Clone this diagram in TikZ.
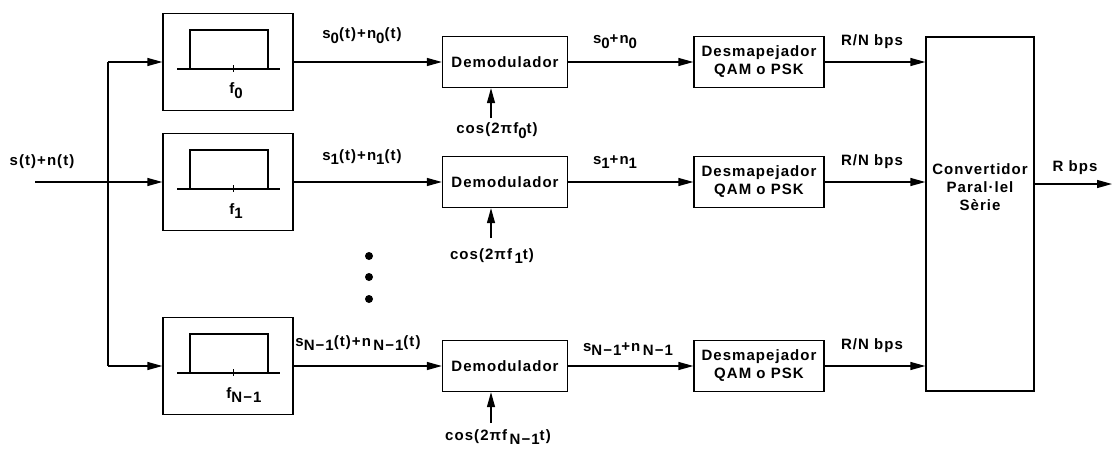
\documentclass[tikz,border=0pt]{standalone}
\usepackage{fontspec}
\setmainfont{Liberation Sans}[LetterSpace=7]
\usetikzlibrary{arrows.meta}
\newcommand{\lo}[1]{\raisebox{-0.6ex}{#1}}
\tikzset{
  lbl/.style={font=\fontsize{15}{18}\selectfont\bfseries, inner sep=0pt, align=center},
  filterbox/.style={rectangle, draw, line width=1.3pt, minimum width=130pt, minimum height=97pt, inner sep=0pt},
  demodbox/.style={rectangle, draw, line width=1.3pt, minimum width=125pt, minimum height=51pt, lbl},
  demapbox/.style={rectangle, draw, line width=1.3pt, minimum width=130pt, minimum height=51pt, lbl},
  convbox/.style={rectangle, draw, line width=1.3pt, minimum width=108pt, minimum height=354pt, inner sep=0pt},
  arrow/.style={-{Triangle[length=15pt,width=8pt]}, line width=1.3pt},
  wire/.style={line width=1.3pt},
  passband/.pic={
    \draw[line width=1.3pt] (-51,7) -- (52,7);
    \draw[line width=1.3pt] (-38,7) -- (-38,-32) -- (40,-32) -- (40,7);
    \draw[line width=1pt] (5,3) -- (5,10);
  }
}

\begin{document}
\begin{tikzpicture}[x=1pt,y=-1pt]
  \useasboundingbox (0,0) rectangle (1112,450);

  % filter bank
  \node[filterbox] (filt0) at (228,62) {};
  \node[filterbox] (filt1) at (228,182) {};
  \node[filterbox] (filtN) at (228,366) {};
  \pic at (filt0.center) {passband};
  \pic at (filt1.center) {passband};
  \pic at (filtN.center) {passband};
  \node[lbl] (fq0) at (236,91) {f\lo{0}};
  \node[lbl] (fq1) at (236,211) {f\lo{1}};
  \node[lbl] (fqN) at (244,395) {f\lo{N−1}};

  % demodulators and demappers
  \node[demodbox] (dem0) at (505,62) {Demodulador};
  \node[demodbox] (dem1) at (505,182) {Demodulador};
  \node[demodbox] (demN) at (505,366) {Demodulador};
  \node[demapbox] (map0) at (759,62) {Desmapejador\\QAM o PSK};
  \node[demapbox] (map1) at (759,182) {Desmapejador\\QAM o PSK};
  \node[demapbox] (mapN) at (759,366) {Desmapejador\\QAM o PSK};
  \node[convbox] (conv) at (980,214) {};
  \node[lbl] (convtxt) at (980,187) {Convertidor\\Paral·lel\\Sèrie};

  % input and splitting
  \node[lbl] (input) at (42,162) {s(t)+n(t)};
  \coordinate (in) at (35,182);
  \coordinate (split) at (108,182);
  \draw[arrow] (in) -- (filt1.west);
  \draw[wire] (split |- filt0.west) -- (split |- filtN.west);
  \draw[arrow] (split |- filt0.west) -- (filt0.west);
  \draw[arrow] (split |- filtN.west) -- (filtN.west);

  % filter -> demodulator
  \draw[arrow] (filt0.east) -- (dem0.west);
  \draw[arrow] (filt1.east) -- (dem1.west);
  \draw[arrow] (filtN.east) -- (demN.west);
  \node[lbl] (sig0) at (362,36) {s\lo{0}(t)+n\lo{0}(t)};
  \node[lbl] (sig1) at (362,157) {s\lo{1}(t)+n\lo{1}(t)};
  \node[lbl] (sigN) at (358,343) {s\lo{N−1}(t)+n\,\lo{N−1}(t)};

  % carriers
  \coordinate (osc0) at (491,118);
  \coordinate (osc1) at (491,238);
  \coordinate (oscN) at (491,423);
  \draw[arrow] (osc0) -- (osc0 |- dem0.south);
  \draw[arrow] (osc1) -- (osc1 |- dem1.south);
  \draw[arrow] (oscN) -- (oscN |- demN.south);
  \node[lbl] (cos0) at (497,131) {cos(2πf\lo{0}t)};
  \node[lbl] (cos1) at (492,256) {cos(2πf\,\lo{1}t)};
  \node[lbl] (cosN) at (498,437) {cos(2πf\,\lo{N−1}t)};

  % demodulator -> demapper
  \draw[arrow] (dem0.east) -- (map0.west);
  \draw[arrow] (dem1.east) -- (map1.west);
  \draw[arrow] (demN.east) -- (mapN.west);
  \node[lbl] (sym0) at (615,42) {s\lo{0}+n\lo{0}};
  \node[lbl] (sym1) at (615,162) {s\lo{1}+n\lo{1}};
  \node[lbl] (symN) at (628,349) {s\lo{N−1}+n\,\lo{N−1}};

  % demapper -> converter
  \draw[arrow] (map0.east) -- (map0.east -| conv.west);
  \draw[arrow] (map1.east) -- (map1.east -| conv.west);
  \draw[arrow] (mapN.east) -- (mapN.east -| conv.west);
  \node[lbl] (rate0) at (872,42) {R/N bps};
  \node[lbl] (rate1) at (872,162) {R/N bps};
  \node[lbl] (rateN) at (872,346) {R/N bps};

  % output
  \coordinate (out) at (1112,184);
  \draw[arrow] (conv.east |- out) -- (out);
  \node[lbl] (rate) at (1075,168) {R bps};

  % more branches
  \fill (369,256) circle (4);
  \fill (369,277) circle (4);
  \fill (369,299) circle (4);
\end{tikzpicture}
\end{document}
